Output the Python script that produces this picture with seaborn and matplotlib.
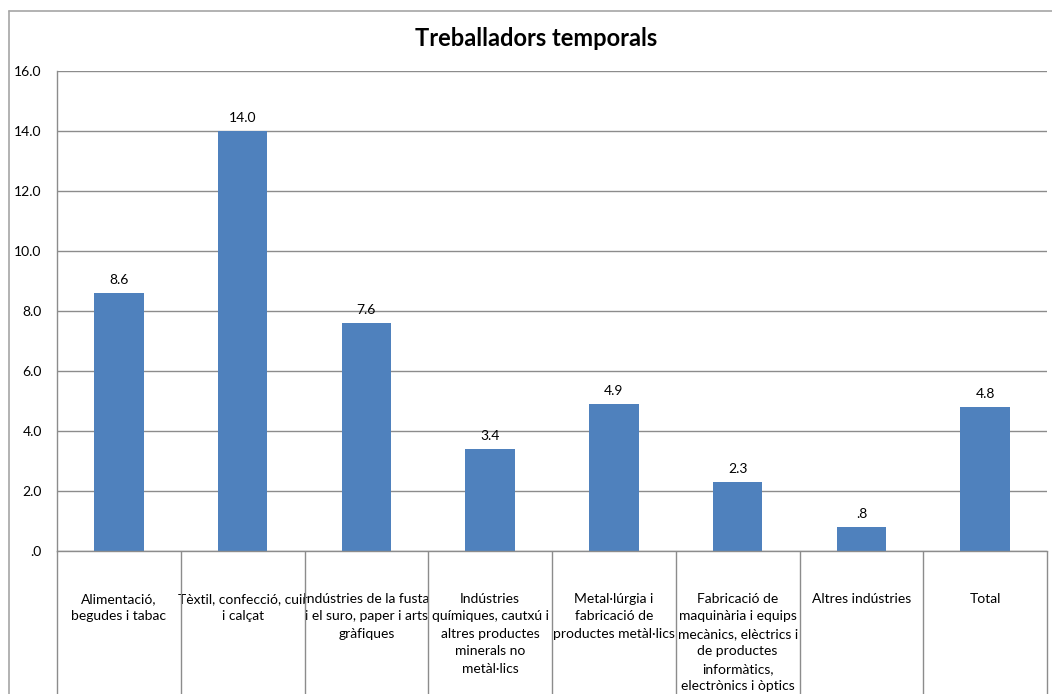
import matplotlib
matplotlib.use("Agg")
import matplotlib.pyplot as plt
from matplotlib.lines import Line2D
from matplotlib.ticker import FuncFormatter
import seaborn as sns
import pandas as pd

# Percentage of temporary workers by industrial branch
categories = [
    "Alimentació,\nbegudes i tabac",
    "Tèxtil, confecció, cuir\ni calçat",
    "Indústries de la fusta\ni el suro, paper i arts\ngràfiques",
    "Indústries\nquímiques, cautxú i\naltres productes\nminerals no\nmetàl·lics",
    "Metal·lúrgia i\nfabricació de\nproductes metàl·lics",
    "Fabricació de\nmaquinària i equips\nmecànics, elèctrics i\nde productes\ninformàtics,\nelectrònics i òptics",
    "Altres indústries",
    "Total",
]
values = [8.6, 14.0, 7.6, 3.4, 4.9, 2.3, 0.8, 4.8]
y_ticks = [0, 2, 4, 6, 8, 10, 12, 14, 16]
title = "Treballadors temporals"

sns.set_theme(style="white")
plt.rcParams["font.family"] = ["Lato", "DejaVu Sans"]

W, H = 1052, 694
fig = plt.figure(figsize=(W / 100, H / 100), dpi=100)
left, right, top, bottom = 57, 1047, 71, 551
ax = fig.add_axes([left / W, 1 - bottom / H, (right - left) / W, (bottom - top) / H])

df = pd.DataFrame({"cat": categories, "val": values})
sns.barplot(data=df, x="cat", y="val", color="#4F81BD", width=0.4,
            saturation=1, ax=ax, edgecolor="none")


def fmt(v):
    s = f"{v:.1f}"
    return s[1:] if s.startswith("0") else s


ax.set_ylim(0, 16)
ax.set_xlim(-0.5, len(categories) - 0.5)
ax.set_yticks(y_ticks)
ax.yaxis.set_major_formatter(FuncFormatter(lambda v, _: fmt(v)))
ax.yaxis.grid(True, color="#8C8C8C", linewidth=1.0)
ax.set_axisbelow(True)
ax.set_xlabel("")
ax.set_ylabel("")

grid_col = "#8C8C8C"
for side in ["top", "right"]:
    ax.spines[side].set_visible(False)
for side in ["left", "bottom"]:
    ax.spines[side].set_color(grid_col)
    ax.spines[side].set_linewidth(1.0)

ax.tick_params(axis="y", length=0, pad=11, labelsize=10, labelcolor="black")
ax.tick_params(axis="x", length=0, pad=30, labelsize=10, labelcolor="black")
for lab in ax.get_xticklabels():
    lab.set_linespacing(1.55)
    lab.set_va("top")

# Category cells below the zero line
bounds = [i - 0.5 for i in range(len(categories) + 1)]
ax.vlines(bounds, 0, -0.4, transform=ax.get_xaxis_transform(),
          colors=grid_col, linewidth=1.0, clip_on=False)

ax.bar_label(ax.containers[0], labels=[fmt(v) for v in values],
             padding=5, fontsize=10, color="black")

fig.text(536 / W, 1 - 38 / H, title, fontsize=17, fontweight="bold",
         ha="center", va="center", color="black")

# Chart frame
frame_col = "#A6A6A6"
fig.add_artist(Line2D([9 / W, 9 / W], [0, 1 - 11 / H], transform=fig.transFigure,
                      color=frame_col, linewidth=1.2))
fig.add_artist(Line2D([9 / W, 1], [1 - 11 / H, 1 - 11 / H], transform=fig.transFigure,
                      color=frame_col, linewidth=1.2))

fig.savefig("out.png", dpi=100, facecolor="white")
